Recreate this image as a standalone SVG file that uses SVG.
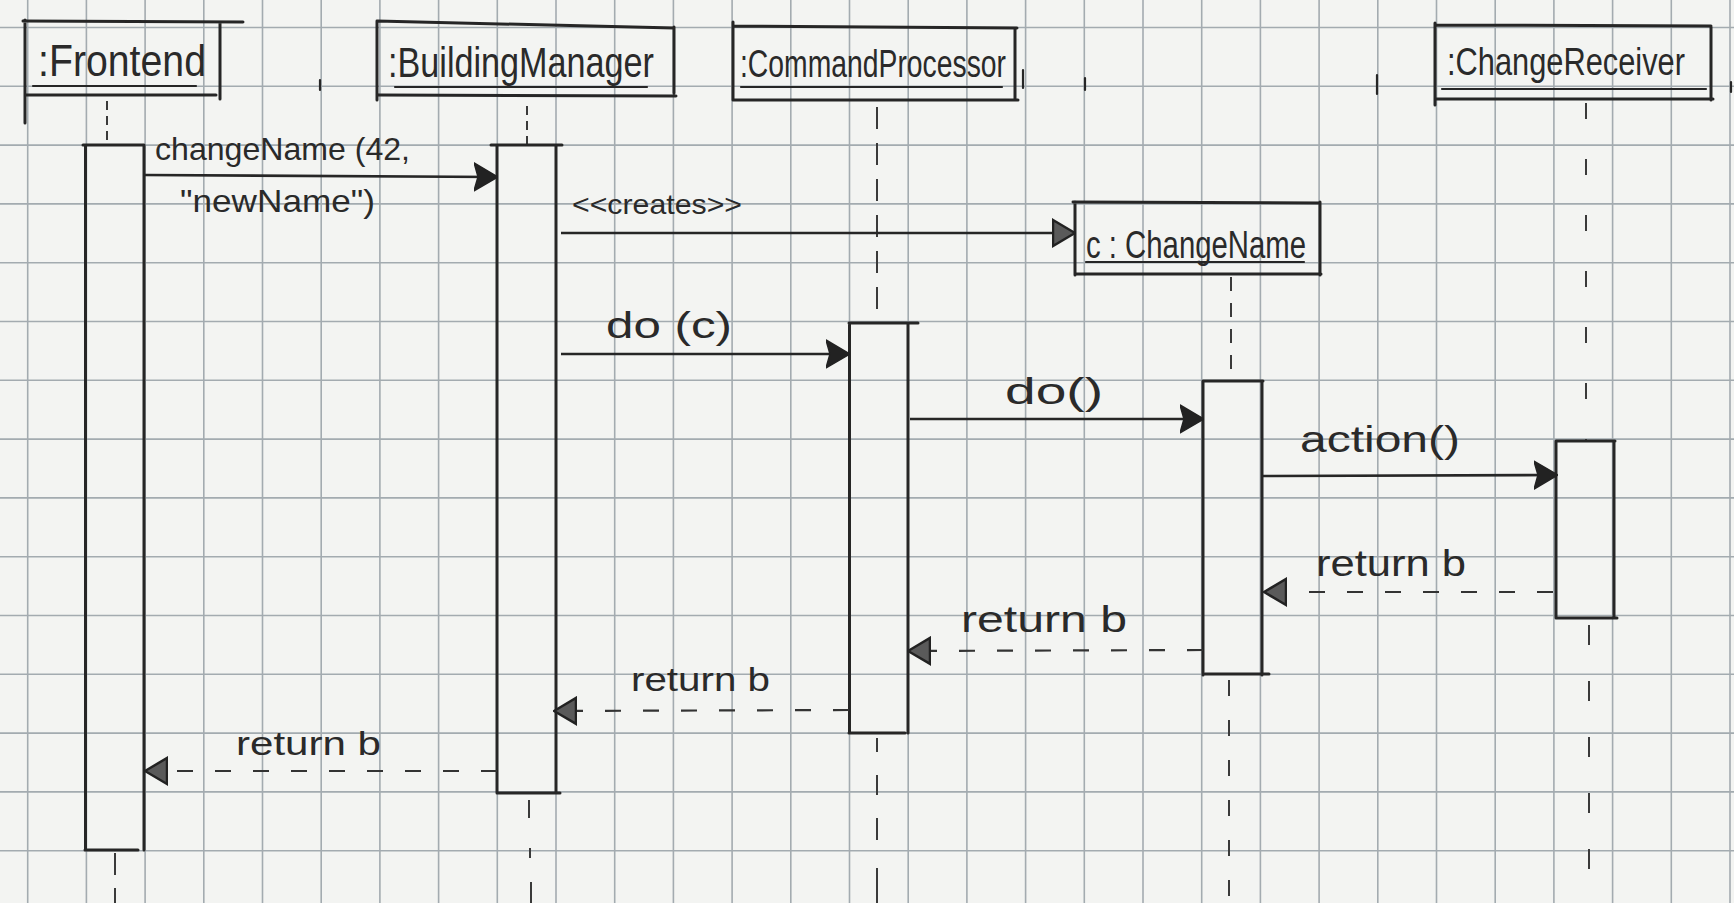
<svg xmlns="http://www.w3.org/2000/svg" width="1734" height="903" viewBox="0 0 1734 903">
<style>
.ink{fill:none;stroke:#262626;stroke-width:3;stroke-linecap:round;}
.thin{fill:none;stroke:#262626;stroke-width:2.2;stroke-linecap:round;}
.life{fill:none;stroke:#3a3a3a;stroke-width:2;}
.msg{fill:none;stroke:#262626;stroke-width:2.6;}
.ret{fill:none;stroke:#333;stroke-width:2.2;stroke-dasharray:16 22;}
.grid{fill:none;stroke:#a3abb0;stroke-width:1.6;}
text{font-family:"Liberation Sans",Arial,sans-serif;fill:#2a2a2a;}
</style>
<defs>
<marker id="head" viewBox="0 0 24 30" refX="23" refY="15" markerWidth="24" markerHeight="30" markerUnits="userSpaceOnUse" orient="auto">
<path d="M0,1 L24,15 L0,29 L4,15 Z" fill="#222" stroke="#222" stroke-width="1.5"/>
</marker>
<marker id="openhead" viewBox="0 0 24 30" refX="23" refY="15" markerWidth="24" markerHeight="30" markerUnits="userSpaceOnUse" orient="auto">
<path d="M1,2 L23,15 L1,28 Z" fill="#5a5a5a" stroke="#222" stroke-width="2.5"/>
</marker>
</defs>
<rect x="0" y="0" width="1734" height="903" fill="#f3f4f2"/>
<path class="grid" d="M27.7,0V903M86.4,0V903M145.1,0V903M203.8,0V903M262.5,0V903M321.2,0V903M379.9,0V903M438.6,0V903M497.3,0V903M556,0V903M614.7,0V903M673.4,0V903M732.1,0V903M790.8,0V903M849.5,0V903M908.2,0V903M966.9,0V903M1025.6,0V903M1084.3,0V903M1143,0V903M1201.7,0V903M1260.4,0V903M1319.1,0V903M1377.8,0V903M1436.5,0V903M1495.2,0V903M1553.9,0V903M1612.6,0V903M1671.3,0V903M1730,0V903M0,27.5H1734M0,86.3H1734M0,145.1H1734M0,203.9H1734M0,262.7H1734M0,321.5H1734M0,380.3H1734M0,439.1H1734M0,497.9H1734M0,556.7H1734M0,615.5H1734M0,674.3H1734M0,733.1H1734M0,791.9H1734M0,850.7H1734"/>
<path class="thin" d="M320,80V90M1085,78V90M1377,75V94M1731,82V92"/>

<g id="frontend">
<path class="ink" d="M23,21L243,22M25,20V123M220,22V99M25,95L216,95"/>
<path class="thin" d="M33,86H196"/>
<text x="38" y="76" font-size="44" textLength="168" lengthAdjust="spacingAndGlyphs">:Frontend</text>
<path class="life" stroke-dasharray="9 6" d="M107,101V145"/>
<path class="ink" d="M83,145H144M85.5,145V850M144,145V850M85,850H138"/>
<path class="life" d="M115,853V875M115,888V903"/>
</g>

<g id="buildingManager">
<path class="ink" d="M377,21L674,28M377,21V100M674,27V93M379,95L676,96"/>
<path class="thin" d="M395,87H647"/>
<text x="388" y="77" font-size="42" textLength="266" lengthAdjust="spacingAndGlyphs">:BuildingManager</text>
<path class="life" stroke-dasharray="9 6" d="M527,106V145"/>
<path class="ink" d="M491,145H562M497,145V793M556,145V793M497,793H560"/>
<path class="life" d="M529,800V818M530,848V858M531,882V903"/>
</g>

<g id="commandProcessor">
<path class="ink" d="M733,26L1017,28M733,22V100M1015,28V100M733,100H1018"/>
<path class="thin" d="M741,87H1002M1023,70V88"/>
<text x="740" y="77" font-size="38" textLength="266" lengthAdjust="spacingAndGlyphs">:CommandProcessor</text>
<path class="life" stroke-dasharray="22 14" d="M877,107V323"/>
<path class="ink" d="M849,323H918M849.5,323V733M908,323V733M849,733H905"/>
<path class="life" d="M877,738V752M877,775V795M877,818V840M877,868V903"/>
</g>

<g id="changeName">
<path class="ink" d="M1073,202L1320,203M1075,202V275M1320,202V275M1075,274H1321"/>
<path class="thin" d="M1086,262H1304"/>
<text x="1086" y="258" font-size="38" textLength="220" lengthAdjust="spacingAndGlyphs">c : ChangeName</text>
<path class="life" stroke-dasharray="14 12" d="M1231,277V381"/>
<path class="ink" d="M1203,381H1263M1203,381V675M1262,381V675M1205,674H1269"/>
<path class="life" stroke-dasharray="16 24" d="M1229,680V903"/>
</g>

<g id="changeReceiver">
<path class="ink" d="M1435,25L1711,26M1435,23V105M1711,27V100M1435,99H1713"/>
<path class="thin" d="M1442,89H1706"/>
<text x="1447" y="75" font-size="39" textLength="238" lengthAdjust="spacingAndGlyphs">:ChangeReceiver</text>
<path class="life" stroke-dasharray="16 40" d="M1586,103V441"/>
<path class="ink" d="M1556,441H1615M1556,441V618M1614,441V618M1557,618H1617"/>
<path class="life" stroke-dasharray="20 36" d="M1589,625V903"/>
</g>

<g id="connectors">
<path class="msg" marker-end="url(#head)" d="M144,175L497,177"/>
<text x="155" y="160" font-size="32" textLength="255" lengthAdjust="spacingAndGlyphs">changeName (42,</text>
<text x="180" y="212" font-size="32" textLength="195" lengthAdjust="spacingAndGlyphs">"newName")</text>
<path class="msg" marker-end="url(#openhead)" d="M561,233H1075"/>
<text x="572" y="214" font-size="28" textLength="170" lengthAdjust="spacingAndGlyphs">&lt;&lt;creates&gt;&gt;</text>
<path class="msg" marker-end="url(#head)" d="M561,354H849"/>
<text x="606" y="338" font-size="36" textLength="126" lengthAdjust="spacingAndGlyphs">do (c)</text>
<path class="msg" marker-end="url(#head)" d="M910,419H1203"/>
<text x="1005" y="404" font-size="36" textLength="98" lengthAdjust="spacingAndGlyphs">do()</text>
<path class="msg" marker-end="url(#head)" d="M1263,476L1557,475"/>
<text x="1300" y="452" font-size="36" textLength="160" lengthAdjust="spacingAndGlyphs">action()</text>
<path class="ret" marker-end="url(#openhead)" d="M1553,592H1264"/>
<text x="1316" y="576" font-size="36" textLength="150" lengthAdjust="spacingAndGlyphs">return b</text>
<path class="ret" marker-end="url(#openhead)" d="M1203,650L908,651"/>
<text x="961" y="632" font-size="36" textLength="166" lengthAdjust="spacingAndGlyphs">return b</text>
<path class="ret" marker-end="url(#openhead)" d="M849,710L554,711"/>
<text x="631" y="691" font-size="34" textLength="139" lengthAdjust="spacingAndGlyphs">return b</text>
<path class="ret" marker-end="url(#openhead)" d="M497,771H145"/>
<text x="236" y="755" font-size="34" textLength="145" lengthAdjust="spacingAndGlyphs">return b</text>
</g>
</svg>
